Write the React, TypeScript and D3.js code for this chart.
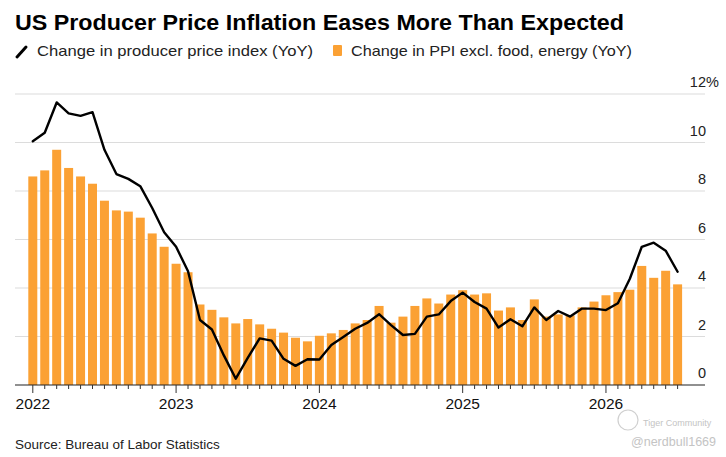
import { useEffect, useRef } from "react";
import * as d3 from "d3";

// Monthly, Jan 2022 .. Jul 2026
const startYear = 2022;
const coreValues = [
  8.6, 8.85, 9.7, 8.95, 8.6, 8.3, 7.6, 7.2, 7.15, 6.9, 6.25, 5.7,
  5.0, 4.65, 3.32, 3.1, 2.79, 2.54, 2.72, 2.5, 2.32, 2.16, 1.95, 1.8,
  2.03, 2.13, 2.27, 2.54, 2.68, 3.26, 2.57, 2.82, 3.26, 3.57, 3.36, 3.73,
  3.91, 3.73, 3.78, 3.07, 3.2, 2.68, 3.53, 2.82, 2.91, 2.87, 3.2, 3.44,
  3.7, 3.83, 3.93, 4.91, 4.42, 4.71, 4.15,
];
const headlineValues = [
  10.05, 10.4, 11.65, 11.2, 11.1, 11.25, 9.7, 8.7, 8.5, 8.2, 7.3, 6.3,
  5.7, 4.69, 2.68, 2.29, 1.22, 0.26, 1.12, 1.92, 1.83, 1.08, 0.79, 1.06,
  1.05, 1.65, 1.98, 2.32, 2.56, 2.92, 2.47, 2.06, 2.11, 2.82, 2.91, 3.46,
  3.81, 3.42, 3.15, 2.37, 2.71, 2.42, 3.2, 2.68, 3.05, 2.82, 3.15, 3.15,
  3.09, 3.37, 4.38, 5.7, 5.87, 5.54, 4.67,
];
const yTicks = [0, 2, 4, 6, 8, 10, 12];
const yearLabels = ["2022", "2023", "2024", "2025", "2026"];

const title = "US Producer Price Inflation Eases More Than Expected";
const legendLine = "Change in producer price index (YoY)";
const legendBar = "Change in PPI excl. food, energy (YoY)";
const source = "Source: Bureau of Labor Statistics";

const ORANGE = "#fba134";
const FONT = "'Liberation Sans', Arial, Helvetica, sans-serif";

export default function App() {
  const svgRef = useRef<SVGSVGElement>(null);

  useEffect(() => {
    if (!svgRef.current) return;
    const svg = d3.select(svgRef.current);
    svg.selectAll("*").remove();

    const W = 726;
    const H = 457;
    svg.append("rect").attr("width", W).attr("height", H).attr("fill", "#fff");

    const plotLeft = 15;
    const plotRight = 705;
    const n = coreValues.length;

    const x = d3.scaleLinear().domain([0, n - 1]).range([32.8, 677.6]);
    const y = d3.scaleLinear().domain([0, 12]).range([385, 94]);
    const barW = 9;

    // Title
    svg
      .append("text")
      .attr("x", 15)
      .attr("y", 30)
      .attr("textLength", 609)
      .attr("lengthAdjust", "spacingAndGlyphs")
      .style("font-family", FONT)
      .style("font-weight", "bold")
      .style("font-size", "22px")
      .style("fill", "#000")
      .text(title);

    // Legend
    const lg = svg.append("g");
    lg.append("line")
      .attr("x1", 17)
      .attr("y1", 57)
      .attr("x2", 26)
      .attr("y2", 47)
      .attr("stroke", "#000")
      .attr("stroke-width", 3)
      .attr("stroke-linecap", "round");
    lg.append("text")
      .attr("x", 37)
      .attr("y", 56)
      .attr("textLength", 276)
      .attr("lengthAdjust", "spacingAndGlyphs")
      .style("font-family", FONT)
      .style("font-size", "15px")
      .style("fill", "#222")
      .text(legendLine);
    lg.append("rect")
      .attr("x", 333)
      .attr("y", 45)
      .attr("width", 9)
      .attr("height", 11)
      .attr("rx", 1)
      .attr("fill", ORANGE);
    lg.append("text")
      .attr("x", 351)
      .attr("y", 56)
      .attr("textLength", 281)
      .attr("lengthAdjust", "spacingAndGlyphs")
      .style("font-family", FONT)
      .style("font-size", "15px")
      .style("fill", "#222")
      .text(legendBar);

    // Gridlines + y labels
    const grid = svg.append("g");
    grid
      .selectAll("line")
      .data(yTicks.filter((t) => t > 0))
      .join("line")
      .attr("x1", plotLeft)
      .attr("x2", plotRight)
      .attr("y1", (d) => y(d))
      .attr("y2", (d) => y(d))
      .attr("stroke", "#dcdcdc")
      .attr("stroke-width", 1.2);

    grid
      .selectAll("text")
      .data(yTicks)
      .join("text")
      .attr("x", plotRight + 1)
      .attr("y", (d) => y(d) - 7)
      .attr("text-anchor", "end")
      .style("font-family", FONT)
      .style("font-size", "14.5px")
      .style("fill", "#222")
      .text((d) => String(d));

    svg
      .append("text")
      .attr("x", plotRight + 1)
      .attr("y", y(12) - 7)
      .style("font-family", FONT)
      .style("font-size", "14.5px")
      .style("fill", "#222")
      .text("%");

    // Bars
    svg
      .append("g")
      .selectAll("rect")
      .data(coreValues)
      .join("rect")
      .attr("x", (_, i) => x(i) - barW / 2)
      .attr("y", (d) => y(d))
      .attr("width", barW)
      .attr("height", (d) => y(0) - y(d))
      .attr("fill", ORANGE);

    // Line
    const line = d3
      .line<number>()
      .x((_, i) => x(i))
      .y((d) => y(d));
    svg
      .append("path")
      .datum(headlineValues)
      .attr("fill", "none")
      .attr("stroke", "#000")
      .attr("stroke-width", 2.4)
      .attr("stroke-linejoin", "round")
      .attr("stroke-linecap", "round")
      .attr("d", line);

    // Baseline + ticks
    svg
      .append("line")
      .attr("x1", plotLeft)
      .attr("x2", plotRight)
      .attr("y1", y(0))
      .attr("y2", y(0))
      .attr("stroke", "#222")
      .attr("stroke-width", 1.2);

    svg
      .append("g")
      .selectAll("line")
      .data(d3.range(n))
      .join("line")
      .attr("x1", (d) => x(d))
      .attr("x2", (d) => x(d))
      .attr("y1", y(0))
      .attr("y2", (d) => y(0) + (d % 12 === 0 ? 8 : 4))
      .attr("stroke", "#333")
      .attr("stroke-width", 1);

    svg
      .append("g")
      .selectAll("text")
      .data(yearLabels)
      .join("text")
      .attr("x", (_, i) => x(i * 12))
      .attr("y", 409)
      .attr("text-anchor", "middle")
      .style("font-family", FONT)
      .style("font-size", "15.5px")
      .style("fill", "#111")
      .text((d) => d);

    // Source
    svg
      .append("text")
      .attr("x", 15)
      .attr("y", 449)
      .style("font-family", FONT)
      .style("font-size", "13.5px")
      .style("fill", "#222")
      .text(source);

    // Watermark
    const wm = svg.append("g").style("font-family", FONT).style("fill", "#c4c4c4");
    wm.append("circle")
      .attr("cx", 628)
      .attr("cy", 420)
      .attr("r", 10)
      .attr("fill", "none")
      .attr("stroke", "#d0d0d0")
      .attr("stroke-width", 1.2);
    wm.append("text")
      .attr("x", 643)
      .attr("y", 426)
      .style("font-size", "9px")
      .text("Tiger Community");
    wm.append("text")
      .attr("x", 716)
      .attr("y", 446)
      .attr("text-anchor", "end")
      .style("font-size", "12.5px")
      .text("@nerdbull1669");
  }, []);

  return (
    <svg
      ref={svgRef}
      width={726}
      height={457}
      style={{ position: "absolute", left: 0, top: 0 }}
    />
  );
}
